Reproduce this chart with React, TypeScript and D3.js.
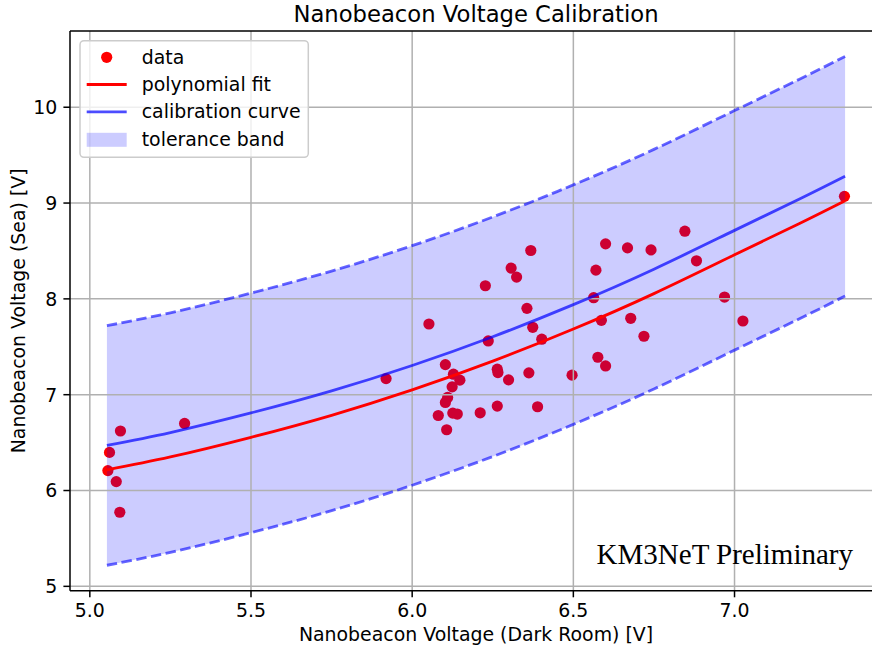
import React from "react"
import * as d3 from "d3"

// measured points: [dark room V, sea V]
const darkRoom = [
  5.095, 5.061, 5.056, 5.082, 5.093, 5.294,
  5.919, 6.052, 6.103, 6.128, 6.148, 6.124, 6.110, 6.103, 6.081, 6.126,
  6.140, 6.107, 6.211, 6.227, 6.236, 6.264, 6.266, 6.264, 6.299, 6.307,
  6.324, 6.356, 6.368, 6.374, 6.362, 6.402, 6.389, 6.496, 6.563, 6.570,
  6.587, 6.576, 6.600, 6.600, 6.668, 6.741, 6.678, 6.719,
  6.846, 6.882, 6.969, 7.026, 7.341,
]
const sea = [
  6.621, 6.398, 6.208, 6.093, 5.773, 6.700,
  7.168, 7.738, 7.314, 7.214, 7.152, 7.082, 6.971, 6.919, 6.783, 6.808,
  6.798, 6.634, 6.811, 8.137, 7.561, 7.266, 7.231, 6.881, 7.155, 8.321,
  8.227, 7.901, 8.505, 7.703, 7.228, 7.579, 6.874, 7.204, 8.012, 8.300,
  7.776, 7.391, 7.300, 8.574, 8.532, 8.511, 7.797, 7.610,
  8.706, 8.397, 8.019, 7.769, 9.070,
]

// curves
const curveX = [5.053, 5.25, 5.5, 5.75, 6.0, 6.25, 6.5, 6.75, 7.0, 7.2, 7.343]
const polyFit = [6.215, 6.35, 6.555, 6.785, 7.05, 7.35, 7.685, 8.055, 8.46, 8.785, 9.025]
const calibration = [6.47, 6.605, 6.81, 7.04, 7.305, 7.605, 7.94, 8.31, 8.715, 9.04, 9.28]
const bandUpper = [7.72, 7.855, 8.06, 8.29, 8.555, 8.855, 9.19, 9.56, 9.965, 10.29, 10.53]
const bandLower = [5.22, 5.355, 5.56, 5.79, 6.055, 6.355, 6.69, 7.06, 7.465, 7.79, 8.03]

const xTicks = [5.0, 5.5, 6.0, 6.5, 7.0]
const yTicks = [5, 6, 7, 8, 9, 10]
const legendLabels = ["data", "polynomial fit", "calibration curve", "tolerance band"]

const W = 872
const H = 650
const left = 70
const right = 882
const top = 31
const bottom = 590.7
const font = "DejaVu Sans, sans-serif"
const fs = 18.9

function pad(ext: [number, number]): [number, number] {
  const m = (ext[1] - ext[0]) * 0.05
  return [ext[0] - m, ext[1] + m]
}

export default function App() {
  const xScale = d3.scaleLinear().domain(pad(d3.extent(curveX) as [number, number])).range([left, right])
  const yScale = d3
    .scaleLinear()
    .domain(pad([d3.min(bandLower) as number, d3.max(bandUpper) as number]))
    .range([bottom, top])

  const pts = curveX.map((x, i) => i)
  const line = (ys: number[]) =>
    d3
      .line<number>()
      .x(i => xScale(curveX[i]))
      .y(i => yScale(ys[i]))
      .curve(d3.curveNatural)(pts) as string
  const band = d3
    .area<number>()
    .x(i => xScale(curveX[i]))
    .y0(i => yScale(bandLower[i]))
    .y1(i => yScale(bandUpper[i]))
    .curve(d3.curveNatural)(pts) as string

  const lw = 2.83
  const dash = "10.5,4.5"
  const legRows = [57.3, 84.5, 111.8, 139.8]

  return (
    <div style={{ position: "absolute", left: 0, top: 0 }}>
      <svg width={W} height={H} style={{ display: "block", background: "white" }}>
        <defs>
          <clipPath id="plot">
            <rect x={left} y={top} width={right - left} height={bottom - top} />
          </clipPath>
        </defs>
        <g clipPath="url(#plot)">
          {darkRoom.map((x, i) => (
            <circle key={i} cx={xScale(x)} cy={yScale(sea[i])} r={5.6} fill="red" />
          ))}
          <path d={band} fill="blue" fillOpacity={0.2} />
          {xTicks.map(t => (
            <line key={"gx" + t} x1={xScale(t)} x2={xScale(t)} y1={top} y2={bottom} stroke="#b0b0b0" strokeWidth={1.5} />
          ))}
          {yTicks.map(t => (
            <line key={"gy" + t} x1={left} x2={right} y1={yScale(t)} y2={yScale(t)} stroke="#b0b0b0" strokeWidth={1.5} />
          ))}
          <path d={line(bandUpper)} fill="none" stroke="blue" strokeOpacity={0.6} strokeWidth={lw} strokeDasharray={dash} />
          <path d={line(bandLower)} fill="none" stroke="blue" strokeOpacity={0.6} strokeWidth={lw} strokeDasharray={dash} />
          <path d={line(polyFit)} fill="none" stroke="red" strokeWidth={lw} />
          <path d={line(calibration)} fill="none" stroke="blue" strokeOpacity={0.7} strokeWidth={lw} />
        </g>

        {/* spines */}
        <line x1={left} x2={left} y1={top} y2={bottom} stroke="black" strokeWidth={1.5} />
        <line x1={left} x2={right} y1={bottom} y2={bottom} stroke="black" strokeWidth={1.5} />
        <line x1={left} x2={right} y1={top} y2={top} stroke="black" strokeWidth={1.5} />

        {/* ticks */}
        {xTicks.map(t => (
          <g key={"xt" + t}>
            <line x1={xScale(t)} x2={xScale(t)} y1={bottom} y2={bottom + 6.6} stroke="black" strokeWidth={1.5} />
            <text x={xScale(t)} y={616.7} textAnchor="middle" fontFamily={font} fontSize={fs}>
              {d3.format(".1f")(t)}
            </text>
          </g>
        ))}
        {yTicks.map(t => (
          <g key={"yt" + t}>
            <line x1={left - 6.6} x2={left} y1={yScale(t)} y2={yScale(t)} stroke="black" strokeWidth={1.5} />
            <text x={57.3} y={yScale(t) + 6.9} textAnchor="end" fontFamily={font} fontSize={fs}>
              {t}
            </text>
          </g>
        ))}

        <text x={(left + right) / 2} y={21.7} textAnchor="middle" fontFamily={font} fontSize={22.7}>
          Nanobeacon Voltage Calibration
        </text>
        <text x={(left + right) / 2} y={640.7} textAnchor="middle" fontFamily={font} fontSize={fs}>
          Nanobeacon Voltage (Dark Room) [V]
        </text>
        <text
          transform={`translate(25.3,${(top + bottom) / 2}) rotate(-90)`}
          textAnchor="middle"
          fontFamily={font}
          fontSize={fs}
        >
          Nanobeacon Voltage (Sea) [V]
        </text>

        <text x={853} y={564} textAnchor="end" fontFamily="Liberation Serif, serif" fontSize={29}>
          KM3NeT Preliminary
        </text>

        {/* legend */}
        <g>
          <rect x={80} y={40.7} width={228.3} height={116.6} rx={4} fill="white" fillOpacity={0.8} stroke="#cccccc" strokeWidth={1.5} />
          <circle cx={106.7} cy={legRows[0]} r={5.6} fill="red" />
          <line x1={86.7} x2={126.7} y1={legRows[1]} y2={legRows[1]} stroke="red" strokeWidth={lw} />
          <line x1={86.7} x2={126.7} y1={legRows[2]} y2={legRows[2]} stroke="blue" strokeOpacity={0.7} strokeWidth={lw} />
          <rect x={86.7} y={legRows[3] - 7} width={40} height={14} fill="blue" fillOpacity={0.2} />
          {legendLabels.map((s, i) => (
            <text key={s} x={141.7} y={legRows[i] + 6.6} fontFamily={font} fontSize={fs}>
              {s}
            </text>
          ))}
        </g>
      </svg>
    </div>
  )
}
